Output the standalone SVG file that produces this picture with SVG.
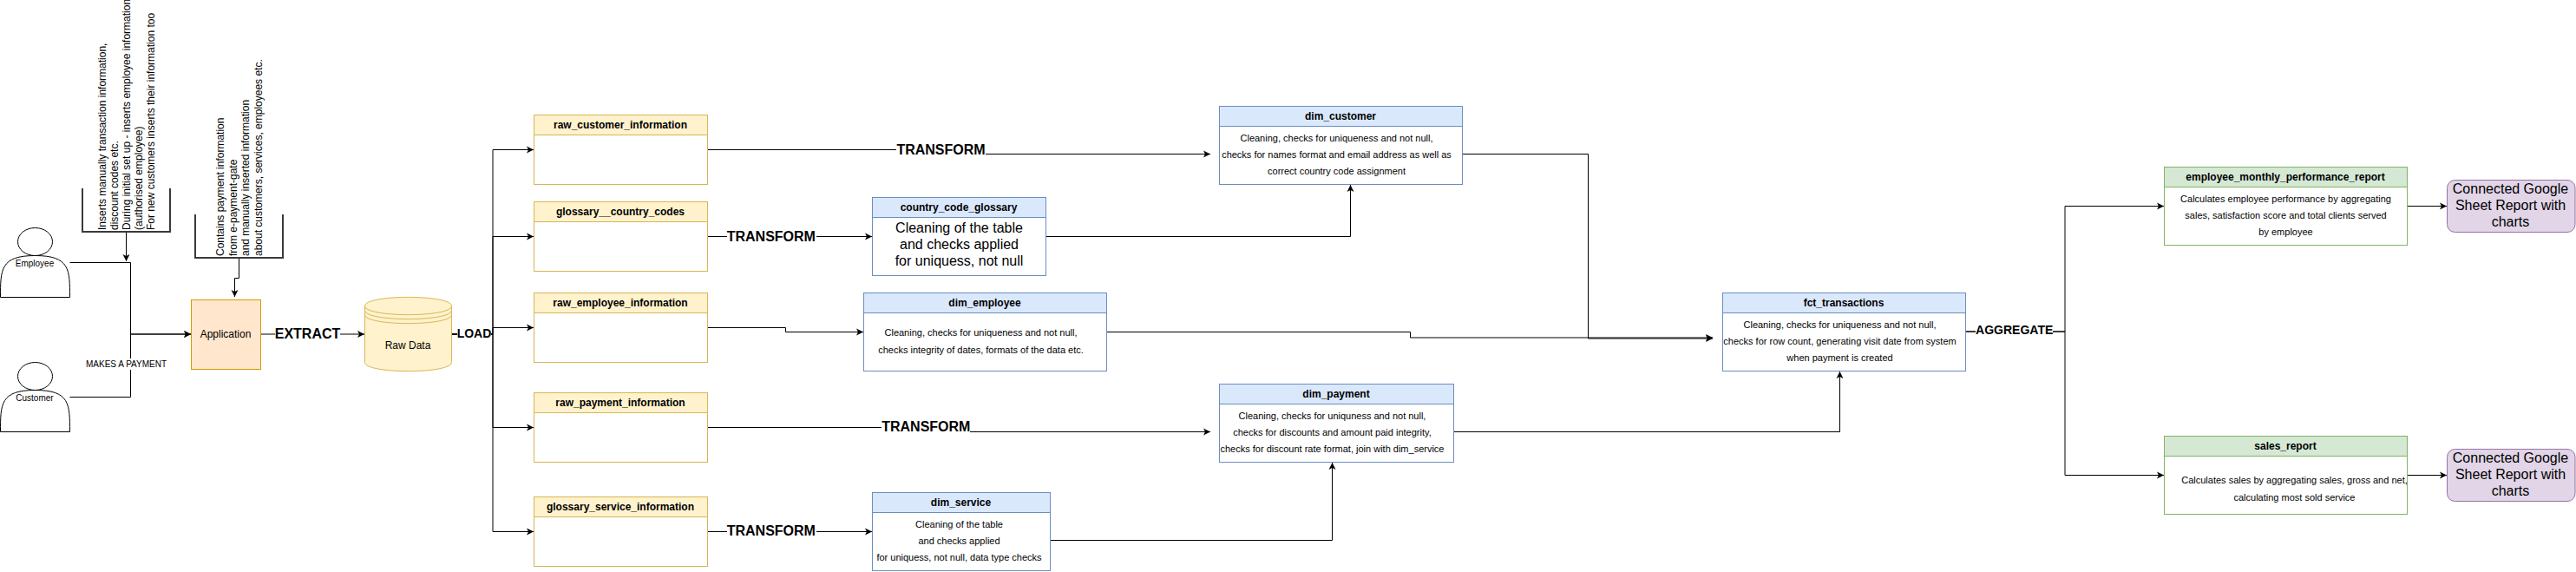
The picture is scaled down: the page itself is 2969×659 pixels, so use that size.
<svg xmlns="http://www.w3.org/2000/svg" width="2969" height="659" viewBox="0 0 2969 659">
<style>
text{font-family:"Liberation Sans",Arial,Helvetica,sans-serif;fill:#000;text-anchor:middle}
.h{font-size:12px;font-weight:bold}
.b{font-size:11px}
.m{font-size:12px}
.s{font-size:10px}
.l{font-size:16px}
.t{font-size:16px;font-weight:bold}
.a{font-size:14px;font-weight:bold}
.r{text-anchor:start;font-size:12px}
.c{fill:none;stroke:#000;stroke-width:1;marker-end:url(#arrow)}
.bg{fill:#fff;stroke:none}
.box{fill:#fff}
.y .box,.y .hd{stroke:#d6b656}.y .hd{fill:#fff2cc}
.u .box,.u .hd{stroke:#6c8ebf}.u .hd{fill:#dae8fc}
.g .box,.g .hd{stroke:#82b366}.g .hd{fill:#d5e8d4}
.actor{fill:#fff;stroke:#000;stroke-width:1}
.br{fill:none;stroke:#3a3a3a;stroke-width:2}
.rep{fill:#e1d5e7;stroke:#9673a6}
</style>
<defs>
<marker id="arrow" markerUnits="userSpaceOnUse" markerWidth="10" markerHeight="10" refX="8" refY="4" orient="auto" overflow="visible">
<path d="M0,0 L8,4 L0,8 L2,4 Z" fill="#000"/>
</marker>
</defs>
<g id="connectors">
<path class="c" d="M145.5,267.5 V301"/>
<path class="c" d="M275.5,297.5 V320.5 H270.5 V342"/>
<path class="c" d="M80.5,302.5 H150.5 V385 H220"/>
<path class="c" d="M80.5,457.5 H150.5 V385 H220"/>
<path class="c" d="M300.5,385 H420"/>
<path class="c" d="M520.5,385 H568 V172.5 H615"/>
<path class="c" d="M520.5,385 H568 V272.5 H615"/>
<path class="c" d="M520.5,385 H568 V377.5 H615"/>
<path class="c" d="M520.5,385 H568 V492.5 H615"/>
<path class="c" d="M520.5,385 H568 V612.5 H615"/>
<path class="c" d="M815.5,172.5 H1105 V177.5 H1395"/>
<path class="c" d="M815.5,272.5 H1005"/>
<path class="c" d="M815.5,377.5 H905.5 V382.5 H995"/>
<path class="c" d="M815.5,492.5 H1105 V497.5 H1395"/>
<path class="c" d="M815.5,612.5 H1005"/>
<path class="c" d="M1205.5,272.5 H1556.5 V213"/>
<path class="c" d="M1210.5,622.5 H1535.5 V533"/>
<path class="c" d="M1685.5,177.5 H1830.5 V390 H1974"/>
<path class="c" d="M1275.5,382.5 H1625.5 V389 H1974"/>
<path class="c" d="M1675.5,497.5 H2120.5 V428"/>
<path class="c" d="M2265.5,382 H2380 V237.5 H2494"/>
<path class="c" d="M2265.5,382 H2380 V547.5 H2494"/>
<path class="c" d="M2774.5,237.5 H2820"/>
<path class="c" d="M2774.5,547.5 H2820"/>
<rect class="bg" x="99" y="413" width="93" height="13"/>
<text class="s" x="145.5" y="423">MAKES A PAYMENT</text>
<rect class="bg" x="317" y="375" width="75" height="18"/>
<text class="t" x="354.5" y="390">EXTRACT</text>
<rect class="bg" x="527" y="376" width="39" height="16"/>
<text class="a" x="546.5" y="389">LOAD</text>
<rect class="bg" x="1033" y="163" width="103" height="19"/>
<text class="t" x="1084.5" y="178">TRANSFORM</text>
<rect class="bg" x="838" y="263" width="103" height="19"/>
<text class="t" x="888.8" y="278">TRANSFORM</text>
<rect class="bg" x="1016" y="482" width="102" height="19"/>
<text class="t" x="1067.3" y="497">TRANSFORM</text>
<rect class="bg" x="838" y="602" width="103" height="19"/>
<text class="t" x="888.8" y="617">TRANSFORM</text>
<rect class="bg" x="2277" y="372" width="89" height="16"/>
<text class="a" x="2321.7" y="385">AGGREGATE</text>
</g>
<g id="employee">
<ellipse class="actor" cx="40.5" cy="278.5" rx="20" ry="16"/>
<path class="actor" d="M0.5,342.5 C0.5,310.5 0.5,294.5 40.5,294.5 C80.5,294.5 80.5,310.5 80.5,342.5 Z"/>
<text class="s" x="40" y="307">Employee</text>
</g>
<g id="customer">
<ellipse class="actor" cx="40.5" cy="433.5" rx="20" ry="16"/>
<path class="actor" d="M0.5,497.5 C0.5,465.5 0.5,449.5 40.5,449.5 C80.5,449.5 80.5,465.5 80.5,497.5 Z"/>
<text class="s" x="40" y="462">Customer</text>
</g>
<g id="note-employee">
<path class="br" d="M95,217 V267 H196 V217"/>
<text class="r" transform="translate(121.5,265) rotate(-90)">Inserts manually transaction information,</text>
<text class="r" transform="translate(135.7,265) rotate(-90)">discount codes etc.</text>
<text class="r" transform="translate(149.5,265) rotate(-90)">During initial set up - inserts employee information</text>
<text class="r" transform="translate(164,265) rotate(-90)">(authorised employee)</text>
<text class="r" transform="translate(178.3,265) rotate(-90)">For new customers inserts their information too</text>
</g>
<g id="note-application">
<path class="br" d="M225,247 V297 H326 V247"/>
<text class="r" transform="translate(258,295) rotate(-90)">Contains payment information</text>
<text class="r" transform="translate(272.7,295) rotate(-90)">from e-payment-gate</text>
<text class="r" transform="translate(287.4,295) rotate(-90)">and manually inserted information</text>
<text class="r" transform="translate(302.1,295) rotate(-90)">about customers, services, employees etc.</text>
</g>
<g id="application">
<rect x="220.5" y="345.5" width="80" height="80" fill="#ffe6cc" stroke="#d79b00"/>
<text class="m" x="260" y="389">Application</text>
</g>
<g id="raw-data">
<path fill="#fff2cc" stroke="#d6b656" d="M420.5,352.5 C420.5,339 520.5,339 520.5,352.5 V417.5 C520.5,431 420.5,431 420.5,417.5 Z"/>
<path fill="none" stroke="#d6b656" d="M420.5,352.5 C420.5,366 520.5,366 520.5,352.5 M420.5,357.5 C420.5,371 520.5,371 520.5,357.5 M420.5,362.5 C420.5,376 520.5,376 520.5,362.5"/>
<text class="m" x="470" y="402">Raw Data</text>
</g>
<g id="raw_customer_information" class="y">
<rect class="box" x="615.5" y="132.5" width="200" height="80"/><rect class="hd" x="615.5" y="132.5" width="200" height="23"/>
<text class="h" x="715" y="148">raw_customer_information</text>
</g>
<g id="glossary__country_codes" class="y">
<rect class="box" x="615.5" y="232.5" width="200" height="80"/><rect class="hd" x="615.5" y="232.5" width="200" height="23"/>
<text class="h" x="715" y="248">glossary__country_codes</text>
</g>
<g id="raw_employee_information" class="y">
<rect class="box" x="615.5" y="337.5" width="200" height="80"/><rect class="hd" x="615.5" y="337.5" width="200" height="23"/>
<text class="h" x="715" y="353">raw_employee_information</text>
</g>
<g id="raw_payment_information" class="y">
<rect class="box" x="615.5" y="452.5" width="200" height="80"/><rect class="hd" x="615.5" y="452.5" width="200" height="23"/>
<text class="h" x="715" y="468">raw_payment_information</text>
</g>
<g id="glossary_service_information" class="y">
<rect class="box" x="615.5" y="572.5" width="200" height="80"/><rect class="hd" x="615.5" y="572.5" width="200" height="23"/>
<text class="h" x="715" y="588">glossary_service_information</text>
</g>
<g id="country_code_glossary" class="u">
<rect class="box" x="1005.5" y="227.5" width="200" height="90"/><rect class="hd" x="1005.5" y="227.5" width="200" height="23"/>
<text class="h" x="1105" y="243">country_code_glossary</text>
<text class="l" x="1105.5" y="268">Cleaning of the table</text>
<text class="l" x="1105.5" y="287">and checks applied</text>
<text class="l" x="1105.5" y="306">for uniquess, not null</text>
</g>
<g id="dim_service" class="u">
<rect class="box" x="1005.5" y="567.5" width="205" height="90"/><rect class="hd" x="1005.5" y="567.5" width="205" height="23"/>
<text class="h" x="1107.5" y="583">dim_service</text>
<text class="b" x="1105.5" y="608">Cleaning of the table</text>
<text class="b" x="1105.5" y="627">and checks applied</text>
<text class="b" x="1105.5" y="646">for uniquess, not null, data type checks</text>
</g>
<g id="dim_employee" class="u">
<rect class="box" x="995.5" y="337.5" width="280" height="90"/><rect class="hd" x="995.5" y="337.5" width="280" height="23"/>
<text class="h" x="1135" y="353">dim_employee</text>
<text class="b" x="1130.5" y="387">Cleaning, checks for uniqueness and not null,</text>
<text class="b" x="1130.5" y="407">checks integrity of dates, formats of the data etc.</text>
</g>
<g id="dim_customer" class="u">
<rect class="box" x="1405.5" y="122.5" width="280" height="90"/><rect class="hd" x="1405.5" y="122.5" width="280" height="23"/>
<text class="h" x="1545" y="138">dim_customer</text>
<text class="b" x="1540.5" y="163">Cleaning, checks for uniqueness and not null,</text>
<text class="b" x="1540.5" y="182">checks for names format and email address as well as</text>
<text class="b" x="1540.5" y="201">correct country code assignment</text>
</g>
<g id="dim_payment" class="u">
<rect class="box" x="1405.5" y="442.5" width="270" height="90"/><rect class="hd" x="1405.5" y="442.5" width="270" height="23"/>
<text class="h" x="1540" y="458">dim_payment</text>
<text class="b" x="1535.5" y="483">Cleaning, checks for uniquness and not null,</text>
<text class="b" x="1535.5" y="502">checks for discounts and amount paid integrity,</text>
<text class="b" x="1535.5" y="521">checks for discount rate format, join with dim_service</text>
</g>
<g id="fct_transactions" class="u">
<rect class="box" x="1985.5" y="337.5" width="280" height="90"/><rect class="hd" x="1985.5" y="337.5" width="280" height="23"/>
<text class="h" x="2125" y="353">fct_transactions</text>
<text class="b" x="2120.5" y="378">Cleaning, checks for uniqueness and not null,</text>
<text class="b" x="2120.5" y="397">checks for row count, generating visit date from system</text>
<text class="b" x="2120.5" y="416">when payment is created</text>
</g>
<g id="employee_monthly_performance_report" class="g">
<rect class="box" x="2494.5" y="192.5" width="280" height="90"/><rect class="hd" x="2494.5" y="192.5" width="280" height="23"/>
<text class="h" x="2634" y="208">employee_monthly_performance_report</text>
<text class="b" x="2634.5" y="233">Calculates employee performance by aggregating</text>
<text class="b" x="2634.5" y="252">sales, satisfaction score and total clients served</text>
<text class="b" x="2634.5" y="271">by employee</text>
</g>
<g id="sales_report" class="g">
<rect class="box" x="2494.5" y="502.5" width="280" height="90"/><rect class="hd" x="2494.5" y="502.5" width="280" height="23"/>
<text class="h" x="2634" y="518">sales_report</text>
<text class="b" x="2644.5" y="557">Calculates sales by aggregating sales, gross and net,</text>
<text class="b" x="2644.5" y="577">calculating most sold service</text>
</g>
<g id="report-employee">
<rect class="rep" x="2820.5" y="207.5" width="147.5" height="60" rx="9"/>
<text class="l" x="2893.5" y="223">Connected Google</text>
<text class="l" x="2893.5" y="242">Sheet Report with</text>
<text class="l" x="2893.5" y="261">charts</text>
</g>
<g id="report-sales">
<rect class="rep" x="2820.5" y="517.5" width="147.5" height="60" rx="9"/>
<text class="l" x="2893.5" y="533">Connected Google</text>
<text class="l" x="2893.5" y="552">Sheet Report with</text>
<text class="l" x="2893.5" y="571">charts</text>
</g>
</svg>
